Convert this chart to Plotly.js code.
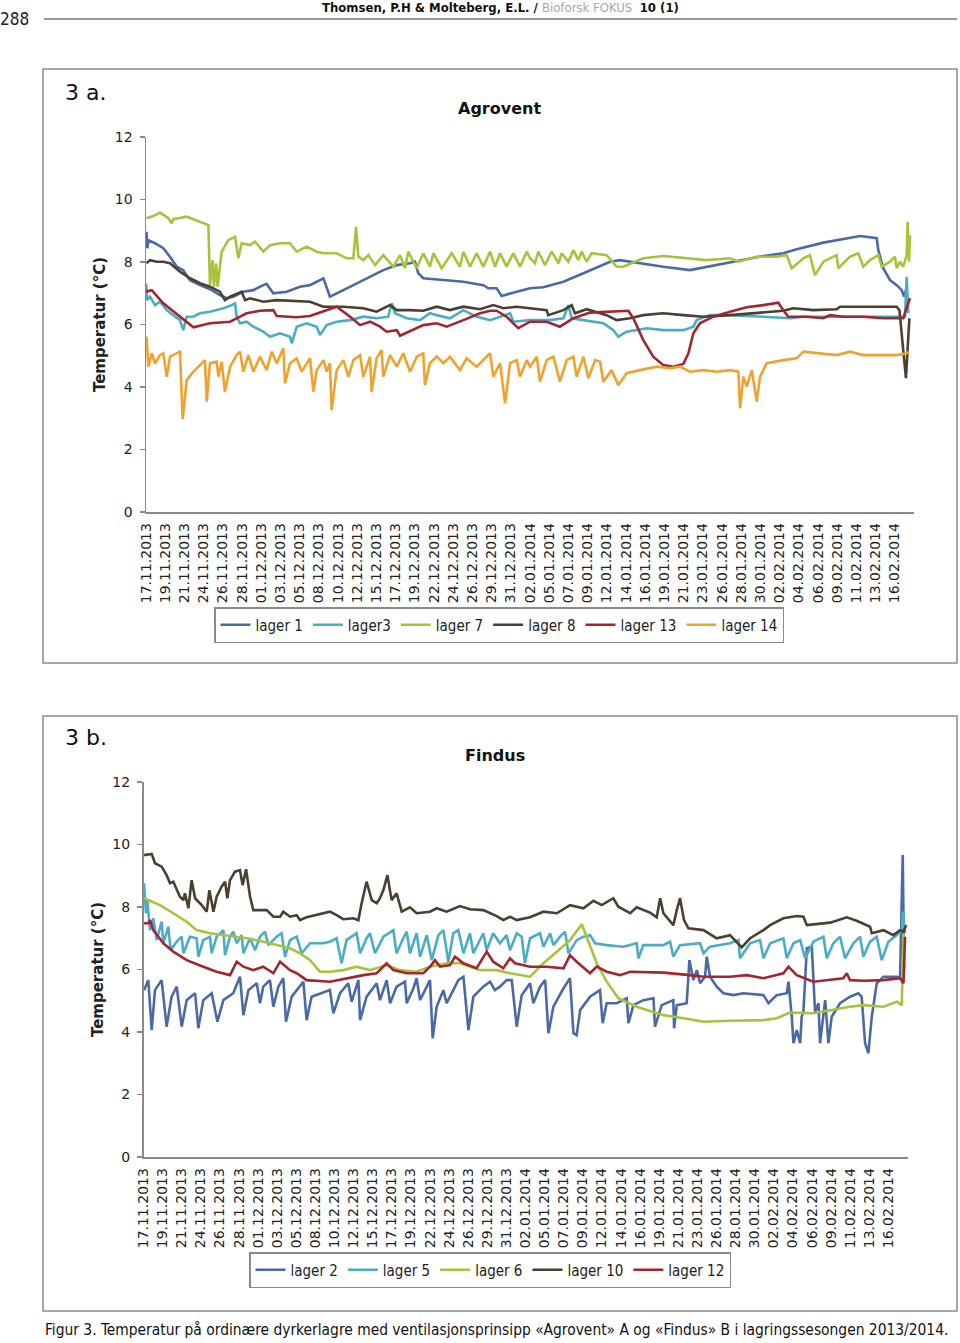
<!DOCTYPE html>
<html><head><meta charset="utf-8">
<script src="https://cdn.plot.ly/plotly-3.0.1.min.js"></script>
<style>html,body{margin:0;padding:0;background:#fff;}#chart{width:960px;height:1343px;}</style>
</head><body><div id="chart"></div>
<script>
// ---------- DATA ----------
// x = position along the date axis in label steps (0 = 17.11.2013, 1 step = 7/3 days)
const dateLabels = ["17.11.2013","19.11.2013","21.11.2013","24.11.2013","26.11.2013","28.11.2013","01.12.2013","03.12.2013","05.12.2013","08.12.2013","10.12.2013","12.12.2013","15.12.2013","17.12.2013","19.12.2013","22.12.2013","24.12.2013","26.12.2013","29.12.2013","31.12.2013","02.01.2014","05.01.2014","07.01.2014","09.01.2014","12.01.2014","14.01.2014","16.01.2014","19.01.2014","21.01.2014","23.01.2014","26.01.2014","28.01.2014","30.01.2014","02.02.2014","04.02.2014","06.02.2014","09.02.2014","11.02.2014","13.02.2014","16.02.2014"];
const tickPositions = dateLabels.map((d, i) => i);

// ---- 3a Agrovent ----
const agroventNames = ["lager 1", "lager3", "lager 7", "lager 8", "lager 13", "lager 14"];
const aLager1 = [[0.03,8.97],[0.07,8.44],[0.12,8.70],[0.47,8.60],[0.90,8.44],[1.25,8.17],[1.60,7.85],[1.94,7.74],[2.29,7.42],[2.81,7.26],[3.33,7.13],[3.85,6.94],[4.20,6.84],[4.55,6.89],[5.07,7.05],[5.59,7.10],[6.11,7.26],[6.28,7.30],[6.63,7.00],[7.33,7.05],[8.02,7.21],[8.54,7.26],[9.24,7.48],[9.58,6.89],[10.28,7.10],[11.32,7.42],[12.36,7.74],[13.06,7.90],[13.75,7.96],[14.01,8.01],[14.18,7.64],[14.44,7.48],[15.66,7.42],[16.53,7.37],[17.57,7.26],[17.83,7.16],[18.26,7.16],[18.52,6.91],[19.31,7.05],[20.0,7.16],[20.69,7.19],[21.74,7.37],[22.78,7.64],[24.17,8.01],[24.69,8.06],[25.21,8.01],[26.94,7.85],[28.33,7.74],[29.72,7.90],[31.11,8.06],[32.15,8.19],[33.19,8.28],[33.89,8.41],[35.28,8.62],[36.67,8.76],[37.19,8.83],[38.06,8.76],[38.14,8.38],[38.40,7.80],[38.75,7.42],[39.10,7.26],[39.36,7.10],[39.48,6.89],[39.58,7.10]];
const aLager3 = [[0.0,7.32],[0.07,6.78],[0.21,6.89],[0.47,6.62],[0.73,6.73],[1.08,6.46],[1.42,6.30],[1.77,6.14],[1.94,5.82],[2.12,6.25],[2.47,6.25],[2.81,6.36],[3.33,6.41],[4.03,6.52],[4.46,6.62],[4.64,6.68],[4.72,6.25],[4.90,6.04],[5.24,6.09],[5.59,5.93],[6.11,5.77],[6.46,5.61],[6.98,5.72],[7.50,5.61],[7.59,5.40],[7.85,5.93],[8.37,6.04],[8.89,5.93],[9.06,5.66],[9.41,5.98],[9.93,6.09],[10.63,6.14],[11.32,6.25],[12.01,6.20],[12.62,6.25],[12.80,6.68],[12.97,6.36],[13.58,6.20],[14.27,6.14],[14.79,6.36],[15.14,6.30],[15.83,6.20],[16.53,6.46],[17.22,6.25],[17.92,6.14],[18.96,6.36],[19.13,6.09],[20.0,6.14],[21.04,6.14],[21.74,6.20],[22.0,6.62],[22.17,6.20],[22.78,6.14],[23.82,6.04],[24.34,5.82],[24.60,5.61],[25.03,5.77],[26.08,5.88],[26.94,5.82],[27.99,5.82],[28.51,5.93],[28.68,6.14],[29.38,6.30],[30.42,6.30],[32.15,6.25],[33.54,6.20],[34.24,6.25],[35.63,6.25],[37.36,6.25],[39.10,6.25],[39.53,6.25],[39.62,7.53],[39.70,6.36]];
const aLager7 = [[0.03,9.40],[0.38,9.47],[0.73,9.58],[1.16,9.40],[1.34,9.24],[1.42,9.37],[2.12,9.45],[2.64,9.32],[3.25,9.18],[3.33,7.26],[3.47,8.06],[3.54,7.21],[3.65,7.96],[3.73,7.21],[3.94,8.33],[4.29,8.70],[4.64,8.81],[4.81,8.12],[4.98,8.60],[5.42,8.54],[5.68,8.65],[6.11,8.33],[6.46,8.54],[6.98,8.60],[7.50,8.60],[7.85,8.33],[8.37,8.49],[8.89,8.33],[9.24,8.28],[9.93,8.28],[10.45,8.12],[10.80,8.12],[10.94,9.13],[11.06,8.17],[11.32,8.06],[11.58,8.22],[11.93,7.90],[12.36,8.22],[12.88,7.85],[13.23,8.22],[13.49,7.80],[13.66,8.33],[14.10,7.80],[14.44,8.28],[14.79,7.85],[14.97,8.28],[15.40,7.80],[15.92,8.28],[16.35,7.85],[16.53,8.33],[16.88,7.85],[17.22,8.28],[17.57,7.85],[17.92,8.33],[18.18,7.85],[18.44,8.28],[18.78,7.85],[19.13,8.28],[19.48,7.85],[19.83,8.33],[20.0,8.12],[20.26,7.96],[20.43,8.33],[20.78,7.90],[21.13,8.33],[21.48,7.96],[21.65,8.28],[22.0,8.01],[22.26,8.38],[22.52,8.06],[22.69,8.33],[22.95,8.01],[23.21,8.28],[23.99,8.22],[24.51,7.85],[24.86,7.85],[25.90,8.12],[26.94,8.19],[28.33,8.12],[29.20,8.06],[30.42,8.12],[30.85,8.01],[31.81,8.17],[32.85,8.17],[33.37,8.22],[33.63,7.80],[34.24,8.12],[34.58,8.22],[34.84,7.58],[35.28,8.01],[35.97,8.22],[36.06,7.80],[36.67,8.17],[37.10,8.28],[37.36,7.85],[37.71,8.06],[38.14,8.22],[38.32,7.85],[38.75,8.01],[39.01,8.17],[39.10,7.80],[39.27,8.01],[39.44,7.85],[39.62,8.22],[39.67,9.29],[39.74,8.01],[39.79,8.86]];
const aLager8 = [[0.03,7.96],[0.21,8.06],[0.56,8.01],[0.90,8.01],[1.25,7.96],[1.77,7.69],[2.29,7.48],[2.81,7.32],[3.33,7.21],[3.85,7.05],[4.11,6.78],[4.38,6.89],[4.98,7.05],[5.16,6.78],[5.42,6.84],[6.11,6.73],[6.81,6.78],[7.85,6.75],[8.54,6.73],[9.24,6.57],[10.28,6.57],[11.32,6.52],[12.01,6.41],[12.71,6.62],[13.06,6.46],[13.75,6.46],[14.44,6.44],[15.14,6.57],[15.83,6.46],[16.53,6.57],[17.40,6.49],[18.09,6.62],[18.61,6.52],[19.31,6.57],[20.0,6.52],[20.87,6.46],[20.95,6.30],[21.74,6.46],[22.17,6.62],[22.34,6.36],[22.95,6.49],[23.99,6.30],[24.51,6.14],[25.21,6.20],[25.90,6.30],[26.94,6.36],[27.99,6.30],[29.03,6.25],[30.42,6.30],[31.81,6.36],[33.19,6.44],[33.72,6.52],[34.76,6.46],[35.97,6.49],[36.15,6.57],[37.36,6.57],[39.10,6.57],[39.24,6.46],[39.58,4.28],[39.76,6.20]];
const aLager13 = [[0.0,7.05],[0.30,7.10],[0.90,6.68],[1.77,6.25],[2.47,5.91],[3.33,6.04],[4.38,6.09],[4.90,6.25],[5.24,6.36],[5.94,6.44],[6.63,6.46],[6.81,6.27],[7.85,6.23],[8.54,6.27],[9.24,6.43],[9.93,6.57],[10.63,6.25],[11.15,5.98],[11.67,6.09],[12.19,5.93],[12.53,5.77],[13.06,5.82],[13.23,5.64],[13.92,5.82],[14.44,5.98],[15.14,6.04],[15.66,5.93],[16.53,6.14],[17.40,6.36],[17.92,6.44],[18.26,6.44],[18.78,6.25],[19.39,5.88],[20.0,6.09],[20.87,6.09],[21.56,5.93],[22.26,6.20],[23.13,6.38],[24.17,6.41],[25.12,6.44],[25.38,6.20],[25.90,5.50],[26.42,4.97],[26.94,4.70],[27.47,4.65],[27.99,4.74],[28.25,5.08],[28.51,5.72],[28.85,6.04],[29.55,6.25],[30.42,6.41],[31.28,6.55],[32.15,6.62],[32.93,6.70],[33.19,6.46],[33.45,6.25],[34.41,6.25],[35.28,6.20],[35.63,6.30],[36.32,6.25],[37.36,6.25],[38.40,6.20],[39.44,6.20],[39.62,6.52],[39.79,6.84]];
const aLager14 = [[0.03,5.61],[0.12,4.65],[0.30,5.08],[0.47,4.76],[0.73,5.02],[0.90,5.08],[1.08,4.33],[1.25,4.97],[1.77,5.13],[1.91,2.97],[2.12,4.22],[2.47,4.49],[2.81,4.70],[3.07,4.86],[3.16,3.53],[3.33,4.76],[3.68,4.81],[3.77,4.33],[3.94,4.81],[4.11,3.85],[4.38,4.65],[4.72,5.02],[4.90,5.13],[5.07,4.49],[5.33,5.02],[5.59,4.49],[5.94,4.97],[6.28,4.54],[6.55,5.13],[6.81,4.76],[7.15,5.24],[7.24,4.12],[7.50,4.76],[7.85,4.92],[8.11,4.49],[8.54,4.92],[8.72,3.85],[8.89,4.54],[9.24,4.86],[9.41,4.49],[9.58,4.76],[9.67,3.26],[9.93,4.54],[10.28,4.86],[10.54,4.33],[10.80,4.86],[11.15,5.02],[11.32,4.33],[11.67,4.97],[11.75,3.85],[12.01,4.92],[12.27,5.18],[12.36,4.33],[12.71,5.02],[13.06,4.65],[13.40,5.08],[13.75,4.49],[14.10,4.97],[14.44,5.08],[14.53,4.06],[14.79,4.76],[15.14,4.97],[15.49,4.76],[15.83,4.97],[16.35,4.54],[16.70,4.92],[17.22,4.65],[17.57,4.86],[17.92,5.08],[18.09,4.33],[18.44,4.76],[18.70,3.48],[18.96,4.76],[19.31,4.86],[19.48,4.33],[19.83,4.86],[20.0,4.65],[20.35,4.97],[20.52,4.17],[20.87,4.86],[21.22,4.97],[21.56,4.17],[21.91,4.86],[22.26,4.97],[22.43,4.33],[22.78,4.97],[23.04,4.28],[23.39,4.86],[23.65,4.81],[23.82,4.17],[24.25,4.54],[24.60,4.06],[25.03,4.44],[25.73,4.54],[26.60,4.65],[27.29,4.60],[27.81,4.65],[28.33,4.49],[29.03,4.54],[29.72,4.49],[30.42,4.54],[30.85,4.49],[30.94,3.32],[31.11,4.33],[31.28,4.01],[31.55,4.54],[31.81,3.53],[31.98,4.33],[32.33,4.76],[33.19,4.86],[33.89,4.92],[34.24,5.13],[34.93,5.08],[35.97,5.02],[36.67,5.13],[37.36,5.02],[38.40,5.02],[39.10,5.02],[39.62,5.08],[39.70,5.13]];
const agroventSeries = [aLager1, aLager3, aLager7, aLager8, aLager13, aLager14];

// ---- 3b Findus ----
const findusNames = ["lager 2", "lager 5", "lager 6", "lager 10", "lager 12"];
const bLager2 = [[0.03,5.34],[0.25,5.66],[0.43,4.06],[0.60,5.34],[0.95,5.66],[1.21,4.17],[1.47,5.13],[1.74,5.45],[2.00,4.17],[2.26,5.02],[2.70,5.24],[2.87,4.12],[3.13,5.02],[3.57,5.24],[3.87,4.33],[4.18,5.02],[4.70,5.24],[5.05,5.77],[5.23,4.54],[5.49,5.34],[5.93,5.56],[6.10,4.92],[6.27,5.45],[6.62,5.66],[6.80,4.81],[7.06,5.45],[7.32,5.72],[7.46,4.33],[7.76,5.13],[8.02,5.34],[8.37,5.61],[8.54,4.38],[8.80,5.13],[9.76,5.34],[9.94,4.60],[10.29,5.24],[10.72,5.56],[10.90,4.97],[11.25,5.66],[11.34,4.38],[11.68,5.13],[12.21,5.56],[12.38,5.02],[12.73,5.66],[12.91,4.92],[13.25,5.45],[13.69,5.61],[13.78,4.92],[14.13,5.40],[14.30,5.72],[14.48,5.02],[14.83,5.45],[15.00,5.66],[15.14,3.80],[15.35,4.81],[15.70,5.34],[15.87,4.92],[16.22,5.34],[16.48,5.66],[16.75,5.77],[17.01,4.06],[17.27,5.13],[17.79,5.45],[18.14,5.61],[18.40,5.34],[18.66,5.45],[19.01,5.66],[19.28,5.66],[19.54,4.17],[19.80,5.18],[20.24,5.56],[20.41,4.92],[20.76,5.45],[21.03,5.66],[21.20,3.96],[21.46,4.81],[21.99,5.40],[22.33,5.72],[22.51,3.96],[22.68,3.90],[22.86,4.70],[23.38,5.13],[23.90,5.34],[24.04,4.28],[24.25,4.92],[24.78,4.92],[25.30,5.08],[25.39,4.28],[25.65,4.86],[26.17,5.02],[26.70,5.08],[26.78,4.17],[27.13,4.86],[27.74,5.02],[27.78,4.12],[27.92,4.86],[28.44,4.92],[28.58,6.30],[28.79,5.66],[28.97,5.98],[29.14,5.56],[29.40,5.77],[29.49,6.41],[29.66,5.77],[30.01,5.45],[30.36,5.24],[30.89,5.18],[31.41,5.24],[32.46,5.18],[32.72,4.92],[33.15,5.18],[33.68,5.24],[33.77,5.61],[33.94,4.49],[34.03,3.64],[34.20,4.06],[34.38,3.64],[34.46,4.49],[34.55,4.65],[34.73,6.68],[34.99,6.73],[35.16,4.65],[35.34,4.92],[35.42,3.64],[35.69,5.02],[35.86,3.64],[36.03,4.49],[36.47,4.92],[36.99,5.13],[37.43,5.24],[37.60,5.13],[37.78,3.64],[37.95,3.32],[38.13,4.49],[38.39,5.56],[38.74,5.77],[39.09,5.77],[39.44,5.77],[39.61,5.72],[39.75,9.66],[39.82,5.98]];
const bLager5 = [[0.03,8.76],[0.13,7.80],[0.20,8.22],[0.34,7.26],[0.51,7.64],[0.69,6.94],[0.95,7.53],[1.04,6.84],[1.30,7.37],[1.42,6.62],[1.74,6.89],[2.00,7.05],[2.09,6.52],[2.43,7.05],[2.78,7.00],[2.87,6.41],[3.13,6.94],[3.48,7.05],[3.57,6.52],[3.83,7.05],[4.18,7.26],[4.27,6.46],[4.53,7.05],[4.70,7.21],[4.88,6.84],[5.14,7.10],[5.23,6.52],[5.58,7.00],[5.84,6.62],[6.10,7.05],[6.36,7.21],[6.54,6.78],[6.97,7.05],[7.23,7.16],[7.41,6.41],[7.67,6.94],[8.02,7.05],[8.28,6.52],[8.72,6.84],[9.41,6.84],[9.76,6.89],[10.11,7.00],[10.37,6.20],[10.63,6.94],[11.16,7.16],[11.34,6.52],[11.68,7.00],[11.86,7.16],[12.12,6.52],[12.56,7.05],[13.08,7.26],[13.25,6.52],[13.60,7.00],[13.78,7.21],[13.95,6.52],[14.30,7.16],[14.48,6.41],[14.83,7.10],[15.09,6.30],[15.44,7.10],[15.70,7.26],[15.96,6.25],[16.22,7.16],[16.48,7.26],[16.75,6.52],[17.09,7.16],[17.27,6.52],[17.79,7.16],[17.97,6.62],[18.31,7.16],[18.66,6.84],[19.01,7.10],[19.19,6.62],[19.54,7.16],[19.80,7.05],[19.97,6.20],[20.24,7.00],[20.76,7.16],[20.94,6.73],[21.29,7.16],[21.46,6.78],[21.81,7.05],[22.07,7.21],[22.25,6.52],[22.68,6.94],[23.03,7.05],[23.38,7.10],[23.64,6.84],[24.25,6.78],[25.13,6.73],[25.82,6.84],[25.91,6.36],[26.17,6.78],[27.22,6.78],[27.57,6.89],[27.74,6.41],[28.09,6.78],[29.14,6.84],[29.32,6.52],[29.66,6.73],[30.71,6.84],[31.15,6.94],[31.23,6.36],[31.76,6.84],[32.28,6.94],[32.46,6.36],[32.81,6.84],[33.50,7.00],[33.68,6.36],[34.03,6.84],[34.38,6.94],[34.64,6.36],[35.07,6.89],[35.60,7.05],[35.77,6.36],[36.12,6.84],[36.47,7.05],[36.73,6.36],[37.17,6.84],[37.52,7.05],[37.69,6.41],[38.04,6.89],[38.39,7.05],[38.65,6.30],[39.00,6.89],[39.44,7.10],[39.70,7.26],[39.75,7.85],[39.87,7.16]];
const bLager6 = [[0.03,8.28],[0.86,8.06],[1.56,7.80],[2.26,7.53],[2.78,7.26],[3.48,7.16],[4.53,7.07],[5.40,7.00],[6.27,6.89],[7.15,6.75],[7.67,6.68],[8.19,6.52],[8.72,6.30],[9.24,5.93],[9.76,5.93],[10.46,5.98],[11.16,6.09],[11.86,5.98],[12.73,6.14],[13.43,5.98],[14.30,5.93],[15.00,6.09],[15.87,6.20],[16.57,6.20],[17.62,5.98],[18.49,5.98],[19.19,5.88],[20.24,5.77],[20.94,6.20],[21.64,6.57],[22.33,6.94],[22.95,7.45],[23.21,7.05],[23.73,6.20],[24.25,5.61],[24.86,5.08],[25.82,4.81],[27.22,4.54],[28.27,4.44],[29.32,4.33],[30.71,4.36],[32.46,4.38],[33.15,4.44],[33.85,4.62],[35.07,4.60],[35.95,4.70],[36.99,4.81],[37.69,4.86],[38.74,4.81],[39.44,4.97],[39.70,4.86],[39.79,7.16]];
const bLager10 = [[0.03,9.66],[0.43,9.70],[0.60,9.40],[0.95,9.29],[1.21,9.02],[1.39,8.76],[1.56,8.81],[1.91,8.33],[2.09,8.22],[2.17,8.44],[2.35,7.96],[2.52,8.86],[2.70,8.28],[3.05,8.06],[3.31,7.85],[3.45,8.54],[3.66,7.85],[3.83,8.33],[4.09,8.65],[4.27,8.81],[4.39,8.28],[4.53,8.86],[4.79,9.13],[5.05,9.18],[5.19,8.70],[5.37,9.21],[5.58,8.33],[5.75,7.90],[6.10,7.90],[6.45,7.90],[6.80,7.69],[7.15,7.69],[7.32,7.85],[7.67,7.69],[8.02,7.74],[8.19,7.58],[8.54,7.67],[9.07,7.74],[9.76,7.85],[10.11,7.74],[10.46,7.61],[10.99,7.64],[11.25,7.58],[11.42,8.12],[11.68,8.81],[11.95,8.22],[12.21,8.12],[12.38,8.28],[12.56,8.54],[12.77,9.02],[12.99,8.22],[13.25,8.44],[13.52,7.85],[13.95,7.99],[14.30,7.80],[15.00,7.85],[15.35,7.96],[15.87,7.85],[16.57,8.03],[17.09,7.93],[17.79,7.90],[18.49,7.71],[18.84,7.58],[19.19,7.69],[19.54,7.58],[20.24,7.67],[20.94,7.85],[21.64,7.80],[22.33,8.06],[23.03,7.96],[23.56,8.20],[23.99,8.06],[24.60,8.28],[24.86,8.01],[25.48,7.80],[25.82,7.99],[26.52,7.82],[26.87,7.67],[27.05,8.28],[27.22,7.80],[27.57,7.53],[27.74,7.42],[27.92,7.90],[28.09,8.28],[28.30,7.58],[28.53,7.32],[29.32,7.26],[30.01,7.00],[30.71,7.10],[31.32,6.71],[31.76,7.00],[32.46,7.26],[32.81,7.42],[33.50,7.64],[34.20,7.71],[34.55,7.69],[34.73,7.42],[35.95,7.50],[36.82,7.67],[37.34,7.56],[38.04,7.37],[38.13,7.16],[38.74,7.26],[39.26,7.10],[39.61,7.26],[39.79,7.21],[39.93,7.42]];
const bLager12 = [[0.03,7.48],[0.25,7.48],[0.34,7.58],[0.51,7.26],[0.78,7.05],[1.04,6.84],[1.56,6.57],[2.26,6.30],[3.13,6.09],[3.83,5.93],[4.53,5.82],[4.88,6.25],[5.23,6.09],[5.75,5.98],[6.27,6.09],[6.80,5.88],[7.15,6.25],[7.67,5.98],[8.02,5.88],[8.54,5.66],[9.76,5.61],[10.63,5.72],[11.51,5.82],[12.21,5.88],[12.73,6.20],[13.08,5.98],[13.78,5.88],[14.65,5.88],[15.00,6.09],[15.26,6.30],[15.53,6.09],[16.05,6.14],[16.31,6.41],[16.75,6.20],[17.44,6.04],[17.97,6.57],[18.31,6.25],[18.84,6.04],[19.19,6.36],[19.45,6.20],[20.24,6.09],[21.11,6.09],[21.99,6.04],[22.33,6.46],[22.68,6.25],[23.38,5.88],[23.73,6.09],[24.25,5.93],[24.95,5.82],[25.48,5.93],[27.22,5.90],[28.62,5.82],[29.32,5.77],[30.71,5.77],[31.58,5.82],[32.46,5.72],[33.50,5.88],[33.77,6.09],[34.20,5.82],[35.07,5.61],[35.95,5.66],[36.64,5.72],[36.82,5.88],[36.99,5.66],[37.69,5.64],[38.74,5.66],[39.61,5.72],[39.79,5.56],[39.87,7.05]];
const findusSeries = [bLager2, bLager5, bLager6, bLager10, bLager12];

// ---------- STYLE ----------
const agroventColors = ["#4a6aa5", "#4bacc6", "#a6c33b", "#4b3f30", "#a2262f", "#f0a22e"];
const findusColors = ["#4a6aa5", "#4bacc6", "#a6c33b", "#4b3f30", "#a2262f"];
const W = 960, H = 1343;
const px = x => x / W;
const py = y => 1 - y / H;
const condensed = "DejaVu Sans Condensed, Liberation Sans Narrow, DejaVu Sans, sans-serif";
const sans = "DejaVu Sans, sans-serif";
const axisGray = "#8a8a8a";

const traces = [];
agroventSeries.forEach((s, i) => traces.push({
  type: "scatter", mode: "lines", name: agroventNames[i],
  x: s.map(p => p[0]), y: s.map(p => p[1]), xaxis: "x", yaxis: "y", legend: "legend",
  line: {color: agroventColors[i], width: 2.6}, hoverinfo: "skip"
}));
findusSeries.forEach((s, i) => traces.push({
  type: "scatter", mode: "lines", name: findusNames[i],
  x: s.map(p => p[0]), y: s.map(p => p[1]), xaxis: "x2", yaxis: "y2", legend: "legend2",
  line: {color: findusColors[i], width: 2.6}, hoverinfo: "skip"
}));

function xAxis(x0, x1, anchor) {
  return {domain: [px(x0), px(x1)], range: [0, 40], anchor: anchor, fixedrange: true,
    tickmode: "array", tickvals: tickPositions, ticktext: dateLabels, tickangle: -90,
    ticks: "", showline: true, linecolor: axisGray, linewidth: 1.5, showgrid: false, zeroline: false,
    tickfont: {family: sans, size: 14, color: "#222"}, ticklabelstandoff: 4};
}
function yAxis(y0, y1, anchor) {
  return {domain: [py(y0), py(y1)], range: [0, 12], anchor: anchor, fixedrange: true,
    tickmode: "linear", tick0: 0, dtick: 2, ticks: "outside", ticklen: 5, tickcolor: axisGray, tickwidth: 1.5,
    showline: true, linecolor: axisGray, linewidth: 1.5, showgrid: false, zeroline: false,
    tickfont: {family: sans, size: 14, color: "#222"}, ticklabelstandoff: 4,
    title: {text: "Temperatur (°C)", font: {family: sans, size: 15, weight: "bold", color: "#222"}, standoff: 5}};
}

const legendBase = {orientation: "h", xanchor: "center", yanchor: "top",
  bordercolor: axisGray, borderwidth: 1.5, bgcolor: "#fff", itemwidth: 30,
  font: {family: condensed, size: 15, color: "#222"}};

const layout = {
  width: W, height: H, margin: {l: 0, r: 0, t: 0, b: 0},
  paper_bgcolor: "#ffffff", plot_bgcolor: "rgba(0,0,0,0)", showlegend: true, hovermode: false,
  xaxis: xAxis(146, 914, "y"), yaxis: yAxis(512, 137, "x"),
  xaxis2: xAxis(143.5, 907.5, "y2"), yaxis2: yAxis(1157, 782, "x2"),
  legend: Object.assign({}, legendBase, {x: px(499), y: py(607)}),
  legend2: Object.assign({}, legendBase, {x: px(490), y: py(1252)}),
  shapes: [
    {type: "line", xref: "paper", yref: "paper", x0: px(44), x1: px(957), y0: py(19), y1: py(19), line: {color: "#333", width: 1.2}},
    {type: "rect", xref: "paper", yref: "paper", x0: px(43), x1: px(957), y0: py(69), y1: py(663), line: {color: "#8a8a8a", width: 1.5}},
    {type: "rect", xref: "paper", yref: "paper", x0: px(43), x1: px(957), y0: py(716), y1: py(1311), line: {color: "#8a8a8a", width: 1.5}}
  ],
  annotations: [
    {xref: "paper", yref: "paper", x: px(14), y: py(19), xanchor: "center", yanchor: "middle", showarrow: false,
      text: "288", font: {family: condensed, size: 17, color: "#222"}},
    {xref: "paper", yref: "paper", x: px(500), y: py(7), xanchor: "center", yanchor: "middle", showarrow: false,
      text: "<b>Thomsen, P.H &amp; Molteberg, E.L. / </b><span style=\"color:#a8a8a8\">Bioforsk FOKUS</span>  <b>10 (1)</b>",
      font: {family: condensed, size: 13, color: "#111"}},
    {xref: "paper", yref: "paper", x: px(63), y: py(92), xanchor: "left", yanchor: "middle", showarrow: false,
      text: "3 a.", font: {family: sans, size: 22, color: "#111"}},
    {xref: "paper", yref: "paper", x: px(499), y: py(109), xanchor: "center", yanchor: "middle", showarrow: false,
      text: "Agrovent", font: {family: sans, size: 16, weight: "bold", color: "#111"}},
    {xref: "paper", yref: "paper", x: px(63), y: py(737), xanchor: "left", yanchor: "middle", showarrow: false,
      text: "3 b.", font: {family: sans, size: 22, color: "#111"}},
    {xref: "paper", yref: "paper", x: px(495), y: py(755), xanchor: "center", yanchor: "middle", showarrow: false,
      text: "Findus", font: {family: sans, size: 16, weight: "bold", color: "#111"}},
    {xref: "paper", yref: "paper", x: px(43), y: py(1330), xanchor: "left", yanchor: "middle", showarrow: false,
      text: "Figur 3. Temperatur på ordinære dyrkerlagre med ventilasjonsprinsipp «Agrovent» A og «Findus» B i lagringssesongen 2013/2014.",
      font: {family: condensed, size: 15.4, color: "#111"}}
  ]
};

Plotly.newPlot("chart", traces, layout, {staticPlot: true, displayModeBar: false});
</script>
</body></html>
